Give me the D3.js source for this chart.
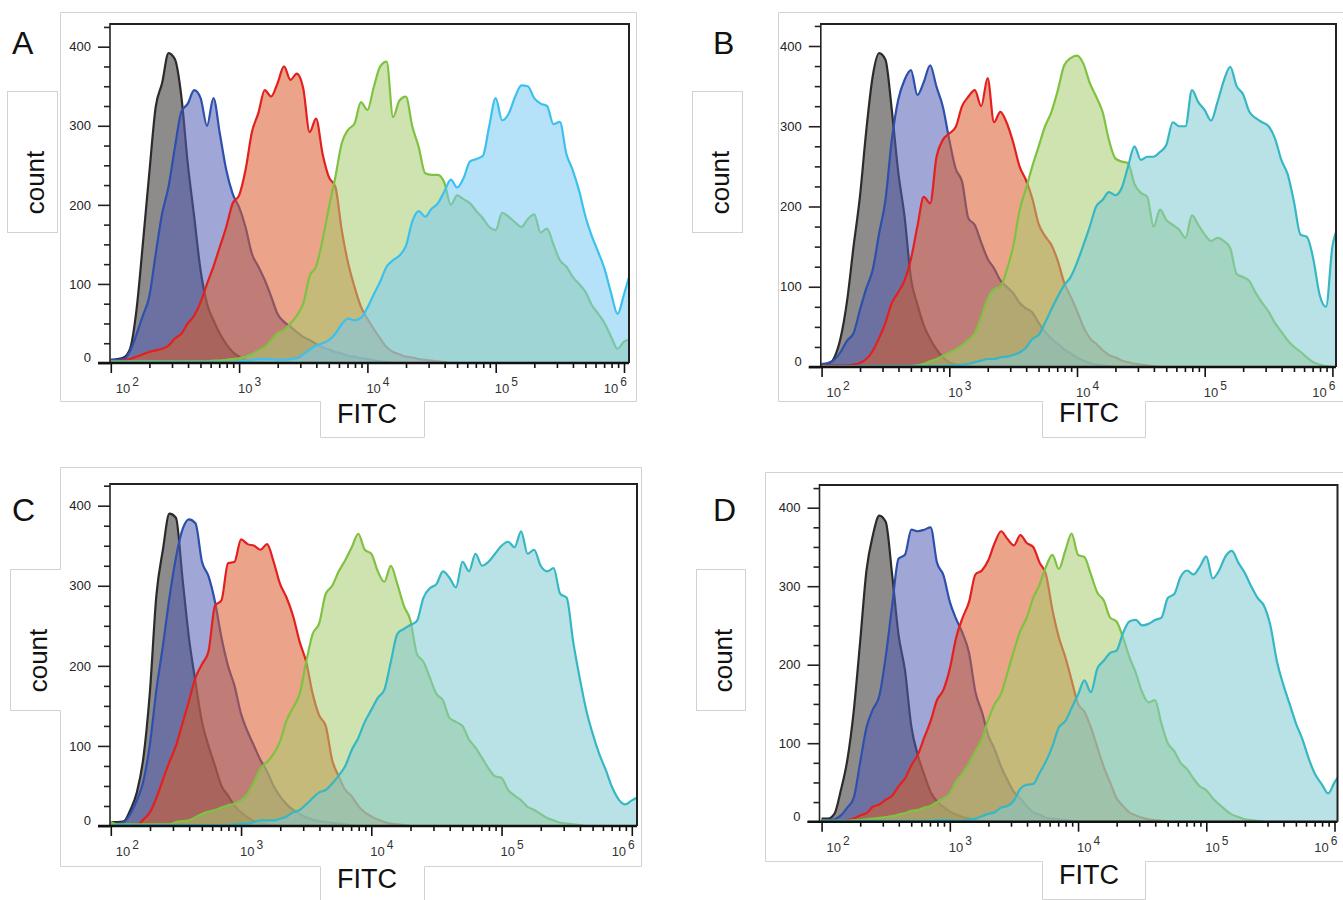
<!DOCTYPE html>
<html>
<head>
<meta charset="utf-8">
<script src="https://cdn.jsdelivr.net/npm/d3@7"></script>
<style>
  body { margin: 0; background: #fff; }
  svg { display: block; font-family: Arial, "Liberation Sans", sans-serif; }
</style>
</head>
<body>
<div id="chart"></div>
<script>
// FITC bins, as log10 of the intensity (shared by every histogram)
const binExp = [
  2.00, 2.05, 2.10, 2.15, 2.20, 2.25, 2.30, 2.35, 2.40, 2.45,
  2.50, 2.55, 2.60, 2.65, 2.70, 2.75, 2.80, 2.85, 2.90, 2.95,
  3.00, 3.05, 3.10, 3.15, 3.20, 3.25, 3.30, 3.35, 3.40, 3.45,
  3.50, 3.55, 3.60, 3.65, 3.70, 3.75, 3.80, 3.85, 3.90, 3.95,
  4.00, 4.05, 4.10, 4.15, 4.20, 4.25, 4.30, 4.35, 4.40, 4.45,
  4.50, 4.55, 4.60, 4.65, 4.70, 4.75, 4.80, 4.85, 4.90, 4.95,
  5.00, 5.05, 5.10, 5.15, 5.20, 5.25, 5.30, 5.35, 5.40, 5.45,
  5.50, 5.55, 5.60, 5.65, 5.70, 5.75, 5.80, 5.85, 5.90, 5.95,
  6.00, 6.05
];

// counts per bin (arrays stop where the curve sits on the baseline)
const A_gray = [4, 5, 7, 18, 67, 151, 240, 324, 354, 392,
  384, 337, 252, 185, 117, 75, 54, 37, 24, 14,
  8, 4, 2, 1, 0];
const A_blue = [4, 4, 5, 15, 36, 60, 84, 138, 189, 223,
  273, 318, 328, 345, 335, 300, 335, 290, 244, 214,
  197, 172, 138, 122, 105, 84, 62, 52, 46, 39,
  33, 29, 24, 20, 17, 14, 12, 9, 8, 6,
  5, 3, 2, 1, 0];
const A_red = [2, 2, 3, 5, 8, 11, 14, 16, 18, 22,
  31, 37, 50, 60, 77, 100, 122, 147, 172, 202,
  212, 244, 292, 316, 345, 337, 354, 375, 358, 366,
  347, 292, 309, 265, 235, 223, 168, 126, 96, 71,
  56, 43, 31, 20, 14, 11, 8, 7, 5, 4,
  3, 2, 1, 0];
const A_green = [2, 2, 2, 2, 2, 2, 2, 2, 2, 2,
  2, 2, 2, 2, 2, 2, 3, 3, 4, 5,
  6, 8, 11, 16, 20, 29, 38, 42, 50, 60,
  75, 110, 122, 155, 197, 235, 278, 295, 303, 330,
  320, 349, 375, 381, 311, 332, 337, 299, 273, 240,
  238, 238, 228, 200, 212, 207, 202, 192, 183, 172,
  168, 190, 185, 178, 172, 182, 188, 165, 170, 150,
  130, 122, 109, 100, 90, 73, 62, 50, 33, 18,
  27, 30];
const A_cyan = [1, 1, 1, 1, 1, 1, 1, 1, 1, 1,
  1, 1, 1, 1, 1, 1, 1, 1, 1, 1,
  2, 3, 4, 5, 5, 5, 4, 4, 5, 6,
  11, 17, 22, 25, 29, 37, 49, 56, 54, 57,
  70, 87, 103, 122, 130, 136, 148, 179, 192, 185,
  195, 202, 217, 232, 222, 234, 255, 258, 262, 300,
  335, 307, 315, 336, 351, 350, 335, 328, 325, 302,
  305, 265, 244, 218, 185, 160, 140, 118, 88, 62,
  87, 115];

const B_gray = [4, 4, 12, 37, 83, 150, 212, 295, 362, 391,
  383, 320, 243, 187, 110, 78, 52, 35, 22, 12,
  6, 3, 2, 1, 0];
const B_blue = [3, 5, 9, 19, 33, 42, 71, 98, 121, 166,
  208, 283, 333, 358, 370, 339, 355, 376, 349, 324,
  283, 247, 231, 185, 177, 155, 135, 123, 108, 100,
  92, 80, 73, 68, 55, 44, 35, 29, 22, 17,
  12, 8, 5, 3, 2, 1, 0];
const B_red = [2, 2, 2, 2, 2, 3, 5, 10, 20, 36,
  55, 80, 93, 108, 135, 175, 212, 204, 262, 283,
  291, 299, 325, 337, 345, 325, 360, 305, 318, 304,
  280, 250, 233, 210, 178, 163, 152, 132, 105, 88,
  70, 50, 36, 29, 21, 15, 12, 8, 6, 4,
  3, 2, 1, 0];
const B_green = [1, 1, 1, 1, 1, 1, 1, 1, 1, 1,
  1, 1, 1, 1, 1, 2, 4, 7, 10, 14,
  18, 22, 27, 34, 42, 62, 85, 97, 100, 121,
  150, 195, 222, 250, 275, 300, 318, 345, 376, 385,
  388, 378, 354, 337, 318, 283, 260, 256, 254, 228,
  217, 212, 175, 196, 183, 177, 171, 161, 189, 177,
  165, 157, 161, 157, 148, 116, 112, 107, 92, 80,
  69, 55, 44, 33, 25, 19, 12, 6, 3, 1,
  0];
const B_cyan = [1, 1, 1, 1, 1, 1, 1, 1, 1, 1,
  1, 1, 1, 1, 1, 1, 1, 1, 1, 1,
  2, 2, 3, 4, 6, 8, 10, 10, 12, 13,
  15, 18, 24, 35, 40, 55, 72, 88, 102, 112,
  130, 152, 175, 200, 208, 218, 214, 223, 250, 275,
  258, 262, 262, 268, 277, 305, 300, 300, 345, 330,
  320, 307, 330, 357, 374, 350, 340, 318, 310, 305,
  300, 285, 258, 240, 205, 165, 162, 135, 90, 75,
  150, 175];

const C_gray = [5, 5, 6, 20, 42, 85, 167, 288, 345, 390,
  385, 310, 235, 180, 130, 100, 75, 50, 38, 25,
  17, 11, 6, 4, 2, 1, 0];
const C_blue = [3, 3, 5, 15, 32, 56, 102, 170, 225, 285,
  335, 370, 383, 378, 330, 312, 280, 235, 200, 175,
  140, 118, 100, 82, 68, 50, 37, 27, 20, 15,
  11, 8, 6, 5, 4, 3, 2, 1, 0];
const C_red = [1, 1, 1, 1, 1, 8, 17, 35, 58, 80,
  100, 128, 156, 185, 202, 218, 275, 282, 328, 330,
  358, 352, 350, 345, 352, 330, 302, 285, 262, 230,
  205, 165, 138, 125, 82, 62, 45, 37, 25, 17,
  12, 8, 5, 3, 2, 1, 0];
const C_green = [5, 2, 2, 2, 2, 2, 2, 2, 2, 2,
  5, 6, 7, 11, 15, 18, 20, 23, 26, 28,
  32, 40, 55, 72, 80, 90, 106, 132, 148, 165,
  205, 240, 253, 290, 300, 318, 332, 348, 365, 345,
  340, 318, 305, 325, 302, 275, 257, 215, 205, 185,
  165, 157, 135, 130, 125, 108, 98, 85, 72, 62,
  60, 45, 38, 32, 24, 20, 15, 10, 7, 4,
  3, 2, 1, 0];
const C_cyan = [1, 1, 1, 1, 1, 1, 1, 1, 1, 1,
  1, 1, 1, 1, 1, 1, 1, 1, 1, 2,
  3, 3, 5, 7, 7, 7, 9, 12, 17, 20,
  27, 35, 42, 45, 53, 63, 75, 95, 110, 130,
  145, 160, 170, 205, 240, 246, 251, 256, 285, 297,
  302, 318, 310, 298, 330, 318, 340, 325, 330, 340,
  350, 355, 348, 368, 340, 345, 325, 318, 322, 290,
  285, 230, 185, 145, 115, 90, 70, 48, 33, 27,
  32, 36];

const D_gray = [4, 4, 10, 40, 78, 140, 228, 320, 365, 390,
  382, 315, 238, 193, 121, 85, 60, 38, 26, 19,
  13, 9, 6, 4, 2, 1, 0];
const D_blue = [2, 2, 3, 8, 18, 30, 75, 120, 143, 160,
  210, 275, 335, 340, 372, 370, 372, 375, 330, 314,
  280, 258, 240, 215, 165, 140, 110, 92, 70, 53,
  38, 30, 20, 12, 9, 5, 4, 3, 2, 1,
  0];
const D_red = [1, 1, 1, 1, 2, 4, 8, 11, 19, 22,
  28, 33, 45, 55, 72, 85, 107, 128, 155, 168,
  195, 235, 260, 280, 315, 320, 333, 355, 370, 360,
  352, 365, 355, 350, 330, 315, 270, 235, 210, 180,
  150, 140, 120, 95, 70, 50, 30, 20, 12, 8,
  5, 3, 2, 1, 0];
const D_green = [1, 1, 1, 1, 1, 2, 2, 3, 4, 5,
  6, 7, 9, 11, 14, 15, 18, 20, 25, 30,
  36, 52, 62, 75, 90, 105, 130, 150, 163, 190,
  218, 243, 260, 285, 302, 325, 340, 322, 345, 367,
  340, 337, 315, 292, 282, 260, 255, 235, 210, 190,
  165, 152, 155, 125, 100, 90, 75, 67, 55, 45,
  40, 30, 22, 15, 9, 6, 3, 2, 1, 0];
const D_cyan = [1, 1, 1, 1, 1, 1, 1, 1, 1, 1,
  1, 1, 1, 1, 1, 1, 1, 1, 2, 2,
  2, 1, 1, 3, 4, 7, 10, 12, 18, 20,
  27, 42, 47, 48, 62, 77, 96, 120, 128, 145,
  162, 180, 165, 195, 205, 215, 218, 240, 255, 257,
  250, 252, 257, 260, 285, 290, 312, 320, 315, 325,
  338, 310, 320, 338, 345, 330, 317, 300, 285, 275,
  250, 205, 175, 150, 125, 105, 80, 60, 48, 36,
  50, 62];

const panelLabels = ['A', 'B', 'C', 'D'];
const yMajor = [0, 100, 200, 300, 400];
const yMinor = [25, 50, 75, 125, 150, 175, 225, 250, 275, 325, 350, 375, 425];
const decades = [2, 3, 4, 5, 6];

// styles: gray, blue, red, green, cyan (panel A uses a lighter sky blue)
const lineColors = ['#2b2b2b', '#2d50ad', '#e3201f', '#7fc241', '#36b7c4'];
const fillColors = ['#322c2c', '#525db4', '#db5a28', '#a8cc6f', '#80cad2'];
const skyLine = '#3cc0ee', skyFill = '#78caf2';

// layout of each panel (pixels)
const panels = [
  { key: 'A', series: [A_gray, A_blue, A_red, A_green, A_cyan], sky: true,
    x100: 110.8, x1e6: 624, y0: 363, y400: 46.7, left: 110, right: 629, top: 24,
    label: [12, 54], count: [43.5, 182.5], fitc: [367, 422.5],
    frame: 'M60.5,12.5H636.5V401.5H424.5V437.5H320.5V401.5H60.5Z', countBox: [7.5, 91.5, 50, 141] },
  { key: 'B', series: [B_gray, B_blue, B_red, B_green, B_cyan], sky: false,
    x100: 821.6, x1e6: 1332.4, y0: 367, y400: 46, left: 820.8, right: 1336, top: 24,
    label: [713, 54], count: [729, 182.5], fitc: [1089, 421.5],
    frame: 'M778.5,12.5H1350V401.5H1145.5V437.5H1042.5V401.5H778.5Z', countBox: [692.5, 91.5, 50, 141] },
  { key: 'C', series: [C_gray, C_blue, C_red, C_green, C_cyan], sky: false,
    x100: 110.8, x1e6: 631.8, y0: 826, y400: 505.7, left: 110, right: 637, top: 484,
    label: [12, 521], count: [47, 660.5], fitc: [367, 888],
    frame: 'M60.5,467.5H641.5V866.5H424.5V905M320.5,905V866.5H60.5V710.5H10.5V569.5H60.5V467.5', countBox: null },
  { key: 'D', series: [D_gray, D_blue, D_red, D_green, D_cyan], sky: false,
    x100: 821.6, x1e6: 1334.5, y0: 821.7, y400: 507.7, left: 819.5, right: 1337.5, top: 485,
    label: [713, 521], count: [731.5, 660.5], fitc: [1089, 884],
    frame: 'M765.5,472.5H1350V861.5H1145.5V899.5H1042.5V861.5H765.5Z', countBox: [696.5, 569.5, 49, 141] }
];

const svg = d3.select('#chart').append('svg')
  .attr('width', 1343)
  .attr('height', 900);

panels.forEach((p, pi) => {
  const g = svg.append('g');

  // light gray frames around the panel and the axis titles
  g.append('path').attr('d', p.frame)
    .attr('fill', 'none').attr('stroke', '#d2d2d2').attr('stroke-width', 1);
  if (p.countBox) {
    g.append('rect')
      .attr('x', p.countBox[0]).attr('y', p.countBox[1])
      .attr('width', p.countBox[2]).attr('height', p.countBox[3])
      .attr('fill', '#fff').attr('stroke', '#d2d2d2');
  }

  const x = d3.scaleLog().domain([1e2, 1e6]).range([p.x100, p.x1e6]);
  const y = d3.scaleLinear().domain([0, 400]).range([p.y0, p.y400]);

  const clipId = 'clip-' + p.key;
  svg.append('clipPath').attr('id', clipId)
    .append('rect')
    .attr('x', p.left).attr('y', p.top)
    .attr('width', p.right - p.left).attr('height', p.y0 - p.top + 1);

  const plot = g.append('g').attr('clip-path', `url(#${clipId})`);

  const area = d3.area()
    .curve(d3.curveMonotoneX)
    .x(d => x(d[0]))
    .y0(y(0))
    .y1(d => y(d[1]));
  const line = d3.line()
    .curve(d3.curveMonotoneX)
    .x(d => x(d[0]))
    .y(d => y(d[1]));

  p.series.forEach((counts, si) => {
    const pts = counts.map((c, i) => [Math.pow(10, binExp[i]), c]);
    let lc = lineColors[si], fc = fillColors[si];
    if (si === 4 && p.sky) { lc = skyLine; fc = skyFill; }
    plot.append('path')
      .attr('d', area(pts))
      .attr('fill', fc)
      .attr('fill-opacity', 0.55);
    plot.append('path')
      .attr('d', line(pts))
      .attr('fill', 'none')
      .attr('stroke', lc)
      .attr('stroke-width', 2.2)
      .attr('stroke-linejoin', 'round');
  });

  // y axis: minor ticks every 25, labelled ticks every 100
  const yMinorAxis = g.append('g')
    .attr('transform', `translate(${p.left},0)`)
    .call(d3.axisLeft(y).tickValues(yMinor.filter(v => y(v) >= p.top)).tickSize(6).tickFormat(''));
  const yMajorAxis = g.append('g')
    .attr('transform', `translate(${p.left},0)`)
    .call(d3.axisLeft(y).tickValues(yMajor).tickSize(12).tickPadding(7));
  [yMinorAxis, yMajorAxis].forEach(a => {
    a.select('.domain').remove();
    a.selectAll('line').attr('stroke', '#222').attr('stroke-width', 1.6);
  });
  yMajorAxis.selectAll('text')
    .attr('font-size', 13)
    .attr('font-family', 'Arial, "Liberation Sans", sans-serif')
    .attr('fill', '#222')
    .attr('dy', d => d === 0 ? '-0.1em' : '0.32em');

  // x axis: decade and sub-decade ticks
  const xMinor = [];
  decades.slice(0, -1).forEach(e => {
    [2, 3, 4, 5, 6, 7, 8, 9].forEach(k => xMinor.push(k * Math.pow(10, e)));
  });
  const xMinorAxis = g.append('g')
    .attr('transform', `translate(0,${p.y0})`)
    .call(d3.axisBottom(x).tickValues(xMinor).tickSize(5).tickFormat(''));
  const xMajorAxis = g.append('g')
    .attr('transform', `translate(0,${p.y0})`)
    .call(d3.axisBottom(x).tickValues(decades.map(e => Math.pow(10, e))).tickSize(10).tickFormat(''));
  [xMinorAxis, xMajorAxis].forEach(a => {
    a.select('.domain').remove();
    a.selectAll('line').attr('stroke', '#111').attr('stroke-width', 1.6);
  });

  decades.forEach((e, i) => {
    const tx = x(Math.pow(10, e));
    let px = tx - 1, anchor = 'start';
    if (i === 0) px = tx + 5;
    if (i === decades.length - 1) { px = tx + 3; anchor = 'end'; }
    const t = g.append('text')
      .attr('x', px).attr('y', p.y0 + 30)
      .attr('text-anchor', anchor)
      .attr('font-size', 13)
      .attr('fill', '#333');
    t.append('tspan').text('10');
    t.append('tspan').attr('dx', 2).attr('dy', -7).attr('font-size', 12).text(e);
  });

  // axis lines and plot box
  g.append('line')
    .attr('x1', p.left).attr('x2', p.left)
    .attr('y1', p.top - 1).attr('y2', p.y0)
    .attr('stroke', '#222').attr('stroke-width', 1.6);
  g.append('line')
    .attr('x1', p.left - 12).attr('x2', p.right)
    .attr('y1', p.y0).attr('y2', p.y0)
    .attr('stroke', '#111').attr('stroke-width', 2.6);
  g.append('path')
    .attr('d', `M${p.left},${p.top}H${p.right}V${p.y0}`)
    .attr('fill', 'none')
    .attr('stroke', '#222')
    .attr('stroke-width', 2);

  // titles
  g.append('text')
    .attr('x', p.label[0]).attr('y', p.label[1])
    .attr('font-size', 32).attr('fill', '#111')
    .text(panelLabels[pi]);
  g.append('text')
    .attr('transform', `translate(${p.count[0]},${p.count[1]}) rotate(-90)`)
    .attr('text-anchor', 'middle')
    .attr('font-size', 26).attr('fill', '#111')
    .text('count');
  g.append('text')
    .attr('x', p.fitc[0]).attr('y', p.fitc[1])
    .attr('text-anchor', 'middle')
    .attr('font-size', 27).attr('fill', '#111')
    .text('FITC');
});
</script>
</body>
</html>
